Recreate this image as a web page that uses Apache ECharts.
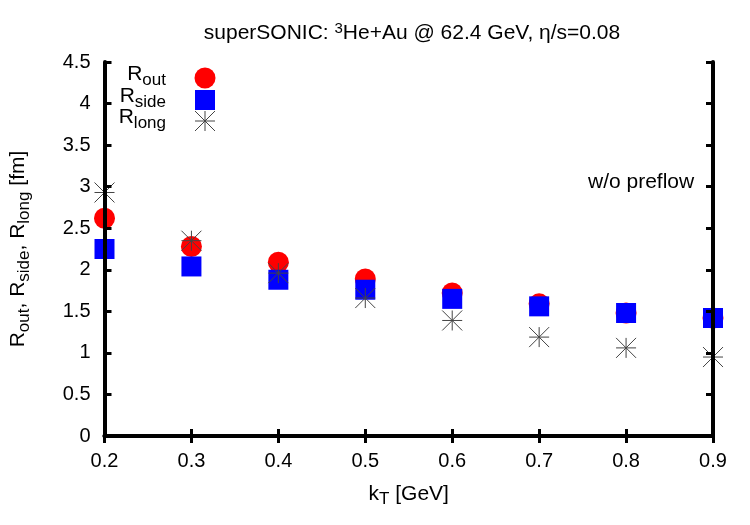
<!DOCTYPE html>
<html>
<head>
<meta charset="utf-8">
<script src="https://cdn.jsdelivr.net/npm/echarts@6/dist/echarts.min.js"></script>
<style>
  html, body { margin: 0; padding: 0; background: #fff; }
  #chart { width: 750px; height: 525px; }
</style>
</head>
<body>
<div id="chart"></div>
<script>
// kT values [GeV] and HBT radii [fm]
const kT = [0.2, 0.3, 0.4, 0.5, 0.6, 0.7, 0.8, 0.9];
const rOut = [2.62, 2.28, 2.09, 1.89, 1.72, 1.59, 1.48, 1.42];
const rSide = [2.25, 2.04, 1.88, 1.76, 1.65, 1.56, 1.48, 1.42];
const rLong = [2.93, 2.35, 1.96, 1.66, 1.39, 1.19, 1.06, 0.95];

const font = 'Liberation Sans, Arial, sans-serif';
const chart = echarts.init(document.getElementById('chart'));

function pairs(ys) {
  return kT.map((x, i) => [x, ys[i]]);
}

// gnuplot-like asterisk (+ and x overlaid)
function starShapes(cx, cy, r) {
  const st = { stroke: '#444', lineWidth: 1 };
  return [
    { type: 'line', shape: { x1: cx - r, y1: cy, x2: cx + r, y2: cy }, style: st },
    { type: 'line', shape: { x1: cx, y1: cy - r, x2: cx, y2: cy + r }, style: st },
    { type: 'line', shape: { x1: cx - r, y1: cy - r, x2: cx + r, y2: cy + r }, style: st },
    { type: 'line', shape: { x1: cx - r, y1: cy + r, x2: cx + r, y2: cy - r }, style: st }
  ];
}

const subRich = {
  n: { fontSize: 21, fontFamily: font, color: '#000' },
  s: { fontSize: 17, fontFamily: font, color: '#000', verticalAlign: 'bottom', padding: [11, 0, 0, 0] }
};

const frameAxis = {
  z: 10,
  axisLine: { show: true, lineStyle: { color: '#000', width: 4 } },
  axisTick: { show: true, inside: true, length: 7, lineStyle: { color: '#000', width: 3 } },
  splitLine: { show: false }
};

const tickFont = { fontSize: 20, fontFamily: font, color: '#000' };

const option = {
  backgroundColor: '#fff',
  animation: false,
  title: {
    text: 'superSONIC: {sup|3}He+Au @ 62.4 GeV, η/s=0.08',
    left: 407, top: 16, textAlign: 'center',
    textStyle: {
      fontSize: 21, fontWeight: 'normal', fontFamily: font, color: '#000',
      rich: {
        sup: { fontSize: 15, fontFamily: font, color: '#000', verticalAlign: 'top', padding: [0, 0, 9, 0] }
      }
    }
  },
  grid: { left: 103, right: 37, top: 62, bottom: 89 },
  xAxis: [
    Object.assign({
      type: 'value', min: 0.2, max: 0.9, interval: 0.1, position: 'bottom',
      name: '{n|k}{s|T}{n| [GeV]}', nameLocation: 'middle', nameGap: 44,
      nameTextStyle: { rich: subRich },
      axisLabel: Object.assign({ margin: 15, formatter: v => v.toFixed(1) }, tickFont)
    }, frameAxis),
    Object.assign({
      type: 'value', min: 0.2, max: 0.9, interval: 0.1, position: 'top',
      axisLabel: { show: false }
    }, frameAxis)
  ],
  yAxis: [
    Object.assign({
      type: 'value', min: 0, max: 4.5, interval: 0.5, position: 'left',
      name: '{n|R}{s|out}{n|, R}{s|side}{n|, R}{s|long}{n| [fm]}',
      nameLocation: 'middle', nameGap: 72, nameRotate: 90,
      nameTextStyle: { rich: subRich },
      axisLabel: Object.assign({ margin: 14 }, tickFont)
    }, frameAxis),
    Object.assign({
      type: 'value', min: 0, max: 4.5, interval: 0.5, position: 'right',
      axisLabel: { show: false }
    }, frameAxis)
  ],
  series: [
    {
      name: 'Rout', type: 'scatter', data: pairs(rOut), clip: false,
      symbol: 'circle', symbolSize: 21, itemStyle: { color: '#ff0000', opacity: 1 }, z: 2
    },
    {
      name: 'Rside', type: 'scatter', data: pairs(rSide), clip: false,
      symbol: 'rect', symbolSize: 20, itemStyle: { color: '#0000ff', opacity: 1 }, z: 3
    },
    {
      name: 'Rlong', type: 'custom', data: pairs(rLong), clip: false, z: 4,
      renderItem: function (params, api) {
        const p = api.coord([api.value(0), api.value(1)]);
        return { type: 'group', children: starShapes(p[0], p[1], 10) };
      }
    }
  ],
  graphic: [
    { type: 'text', right: 750 - 166, top: 64, style: { text: '{n|R}{s|out}', rich: subRich, textAlign: 'right' } },
    { type: 'text', right: 750 - 166, top: 86, style: { text: '{n|R}{s|side}', rich: subRich, textAlign: 'right' } },
    { type: 'text', right: 750 - 166, top: 107, style: { text: '{n|R}{s|long}', rich: subRich, textAlign: 'right' } },
    { type: 'circle', shape: { cx: 205, cy: 78, r: 10.5 }, style: { fill: '#ff0000' }, z: 20 },
    { type: 'rect', shape: { x: 195, y: 90, width: 20, height: 20 }, style: { fill: '#0000ff' }, z: 20 },
    { type: 'group', z: 20, children: starShapes(205, 121, 10) },
    { type: 'text', left: 588, top: 172,
      style: { text: 'w/o preflow', fontSize: 21, fontFamily: font, fill: '#000' } }
  ]
};

chart.setOption(option);
</script>
</body>
</html>
